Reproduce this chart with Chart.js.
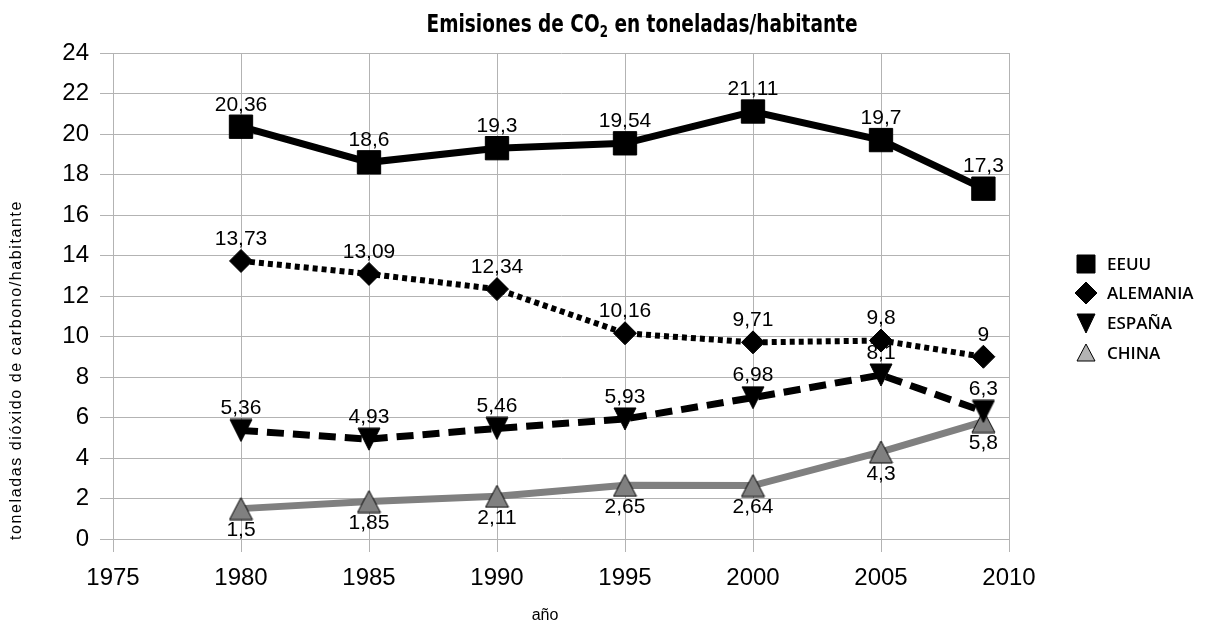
<!DOCTYPE html>
<html>
<head>
<meta charset="utf-8">
<script src="https://cdn.jsdelivr.net/npm/chart.js@4/dist/chart.umd.min.js"></script>
<style>
  html, body { margin: 0; padding: 0; background: #fff; }
  #wrap { width: 1212px; height: 626px; position: relative; }
</style>
</head>
<body>
<div id="wrap"><canvas id="c"></canvas></div>
<script>
'use strict';

// Datos
const YEARS = [1980, 1985, 1990, 1995, 2000, 2005, 2009];
const EEUU = [20.36, 18.6, 19.3, 19.54, 21.11, 19.7, 17.3];
const ALEMANIA = [13.73, 13.09, 12.34, 10.16, 9.71, 9.8, 9];
const ESPANA = [5.36, 4.93, 5.46, 5.93, 6.98, 8.1, 6.3];
const CHINA = [1.5, 1.85, 2.11, 2.65, 2.64, 4.3, 5.8];
const SERIES_NAMES = ['EEUU', 'ALEMANIA', 'ESPAÑA', 'CHINA'];
const X_MIN = 1975, X_MAX = 2010, X_STEP = 5;
const Y_MIN = 0, Y_MAX = 24, Y_STEP = 2;

const TITLE_A = 'Emisiones de CO';
const TITLE_SUB = '2';
const TITLE_B = ' en toneladas/habitante';
const Y_TITLE = 'toneladas dióxido de carbono/habitante';
const X_TITLE = 'año';

const GRID = '#b3b3b3';
const GREY = '#808080';
const FONT = '"Liberation Sans", Arial, sans-serif';

// ---------------------------------------------------------------------------
// Marcadores triangulares (centrados en su caja)
// ---------------------------------------------------------------------------
function makeTriangle(w, h, fill, down) {
  const cv = document.createElement('canvas');
  cv.width = w + 2; cv.height = h + 2;
  const g = cv.getContext('2d');
  g.beginPath();
  if (down) {
    g.moveTo(1, 1); g.lineTo(w + 1, 1); g.lineTo(w / 2 + 1, h + 1);
  } else {
    g.moveTo(w / 2 + 1, 1); g.lineTo(w + 1, h + 1); g.lineTo(1, h + 1);
  }
  g.closePath();
  g.fillStyle = fill; g.fill();
  g.lineWidth = 1; g.strokeStyle = '#000'; g.stroke();
  return cv;
}

const triDown = makeTriangle(22, 22, '#000', true);
const triUp = makeTriangle(23, 22, GREY, false);

const toPts = arr => arr.map((v, i) => ({ x: YEARS[i], y: v }));
const fmt = v => String(v).replace('.', ',');

// ---------------------------------------------------------------------------
// Plugins: etiquetas, títulos y leyenda
// ---------------------------------------------------------------------------
const labelsPlugin = {
  id: 'labels',
  afterDatasetsDraw(chart) {
    const ctx = chart.ctx;
    ctx.save();
    ctx.font = '21px ' + FONT;
    ctx.fillStyle = '#000';
    ctx.textAlign = 'center';
    ctx.textBaseline = 'middle';
    chart.data.datasets.forEach((ds, i) => {
      const meta = chart.getDatasetMeta(i);
      meta.data.forEach((pt, j) => {
        const dy = ds.labelBelow ? 22 : -22;
        ctx.fillText(fmt(ds.data[j].y), pt.x, pt.y + dy);
      });
    });
    ctx.restore();
  }
};

const decorPlugin = {
  id: 'decor',
  afterDraw(chart) {
    const ctx = chart.ctx;
    ctx.save();
    ctx.fillStyle = '#000';

    // Título con subíndice, comprimido al ancho del original
    const big = 'bold 25px "DejaVu Sans Condensed", sans-serif';
    const small = 'bold 16px "DejaVu Sans Condensed", sans-serif';
    ctx.font = big;
    const wa = ctx.measureText(TITLE_A).width;
    const wb = ctx.measureText(TITLE_B).width;
    ctx.font = small;
    const ws = ctx.measureText(TITLE_SUB).width;
    const total = wa + ws + wb;
    const sx = 431 / total;
    ctx.save();
    ctx.translate(642 - 431 / 2, 0);
    ctx.scale(sx, 1);
    let x = 0;
    ctx.textBaseline = 'alphabetic';
    ctx.textAlign = 'left';
    ctx.font = big; ctx.fillText(TITLE_A, x, 32); x += wa;
    ctx.font = small; ctx.fillText(TITLE_SUB, x, 37); x += ws;
    ctx.font = big; ctx.fillText(TITLE_B, x, 32);
    ctx.restore();

    // Títulos de ejes
    ctx.font = '16px ' + FONT;
    ctx.textAlign = 'center';
    ctx.textBaseline = 'middle';
    ctx.fillText(X_TITLE, 545, 616);
    const wy = ctx.measureText(Y_TITLE).width;
    ctx.letterSpacing = ((340 - wy) / Y_TITLE.length).toFixed(2) + 'px';
    ctx.translate(17, 370);
    ctx.rotate(-Math.PI / 2);
    ctx.fillText(Y_TITLE, 0, 0);
    ctx.restore();

    // Leyenda
    ctx.save();
    const lx = 1086, tx = 1107;
    const rows = [264, 293, 323, 353];
    ctx.font = '600 17px "Open Sans", sans-serif';
    ctx.textAlign = 'left';
    ctx.textBaseline = 'middle';
    rows.forEach((y, i) => {
      ctx.beginPath();
      if (i === 0) {
        ctx.rect(lx - 9, y - 9, 18, 18);
      } else if (i === 1) {
        ctx.moveTo(lx, y - 11); ctx.lineTo(lx + 11, y); ctx.lineTo(lx, y + 11); ctx.lineTo(lx - 11, y);
      } else if (i === 2) {
        ctx.moveTo(lx - 9, y - 9); ctx.lineTo(lx + 9, y - 9); ctx.lineTo(lx, y + 10);
      } else {
        ctx.moveTo(lx, y - 9); ctx.lineTo(lx + 9, y + 8); ctx.lineTo(lx - 9, y + 8);
      }
      ctx.closePath();
      ctx.fillStyle = i === 3 ? '#b3b3b3' : '#000';
      ctx.fill();
      ctx.lineWidth = 1; ctx.strokeStyle = '#000'; ctx.stroke();
      ctx.fillStyle = '#000';
      ctx.fillText(SERIES_NAMES[i], tx, y + 1);
    });
    ctx.restore();
  }
};

// ---------------------------------------------------------------------------
// Gráfico
// ---------------------------------------------------------------------------
new Chart(document.getElementById('c'), {
  type: 'line',
  data: {
    datasets: [
      {
        label: SERIES_NAMES[0], data: toPts(EEUU),
        borderColor: '#000', borderWidth: 7,
        pointStyle: 'rect', pointRadius: 16.5,
        pointBackgroundColor: '#000', pointBorderColor: '#000', pointBorderWidth: 1,
      },
      {
        label: SERIES_NAMES[1], data: toPts(ALEMANIA),
        borderColor: '#000', borderWidth: 6, borderDash: [5, 4], borderCapStyle: 'butt',
        pointStyle: 'rectRot', pointRadius: 11.5,
        pointBackgroundColor: '#000', pointBorderColor: '#000', pointBorderWidth: 1,
      },
      {
        label: SERIES_NAMES[2], data: toPts(ESPANA),
        borderColor: '#000', borderWidth: 7, borderDash: [17, 9],
        pointStyle: triDown, pointRadius: 12,
      },
      {
        label: SERIES_NAMES[3], data: toPts(CHINA), labelBelow: true,
        borderColor: GREY, borderWidth: 7,
        pointStyle: triUp, pointRadius: 12,
      },
    ],
  },
  options: {
    responsive: true,
    maintainAspectRatio: false,
    animation: false,
    events: [],
    layout: { padding: { top: 53, right: 203, left: 0, bottom: 0 } },
    plugins: { legend: { display: false }, title: { display: false }, tooltip: { enabled: false } },
    elements: { line: { tension: 0 } },
    scales: {
      x: {
        type: 'linear', min: X_MIN, max: X_MAX,
        ticks: { stepSize: X_STEP, color: '#000', font: { family: FONT, size: 24 }, padding: 12,
                 callback: v => String(v) },
        grid: { color: GRID, tickLength: 13 },
        border: { color: GRID },
        afterFit: s => { s.height = 87; },
      },
      y: {
        min: Y_MIN, max: Y_MAX,
        ticks: { stepSize: Y_STEP, color: '#000', font: { family: FONT, size: 24 }, padding: 11 },
        grid: { color: GRID, tickLength: 13 },
        border: { color: GRID },
        afterFit: s => { s.width = 113; },
      },
    },
  },
  plugins: [labelsPlugin, decorPlugin],
});
</script>
</body>
</html>
